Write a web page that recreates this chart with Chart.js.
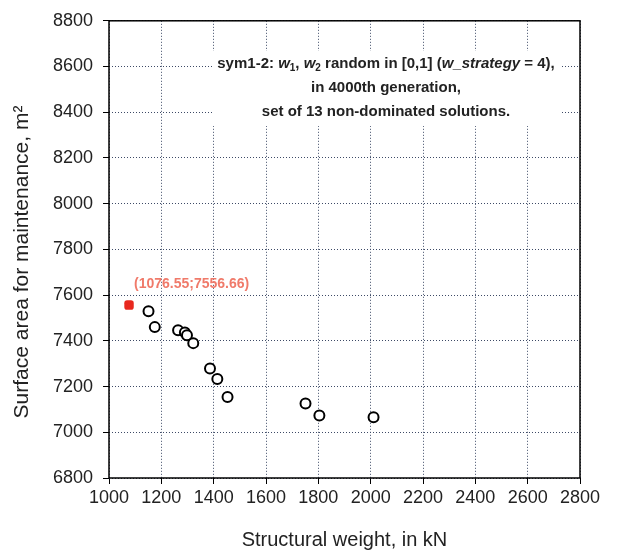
<!DOCTYPE html>
<html>
<head>
<meta charset="utf-8">
<script src="https://cdn.jsdelivr.net/npm/chart.js@4/dist/chart.umd.min.js"></script>
<style>
  html, body { margin: 0; padding: 0; background: #fff; }
  #wrap { width: 621px; height: 553px; }
</style>
</head>
<body>
<div id="wrap"><canvas id="chart" width="621" height="553"></canvas></div>
<script>
// non-dominated solutions (structural weight kN, surface area m2)
const weights = [1151, 1175, 1264, 1290, 1298, 1322, 1386, 1414, 1453, 1751, 1804, 2011];
const areas   = [7529, 7460, 7446, 7437, 7424, 7390, 7279, 7233, 7154, 7126, 7073, 7066];
// highlighted best solution
const bestWeight = [1076.55];
const bestArea   = [7556.66];
const bestLabel  = '(1076.55;7556.66)';

const xTicks = [1000, 1200, 1400, 1600, 1800, 2000, 2200, 2400, 2600, 2800];
const yTicks = [6800, 7000, 7200, 7400, 7600, 7800, 8000, 8200, 8400, 8600, 8800];

const textColor = '#222';
const gridColor = '#3d4a66';
const font = 'Liberation Sans, Arial, sans-serif';
const yTitle = 'Surface area for maintenance, m²';

// note inside the plot, as styled runs
const noteLines = [
  [['sym1-2: ', ''], ['w', 'i'], ['1', 'sub'], [', ', ''], ['w', 'i'], ['2', 'sub'],
   [' random in [0,1] (', ''], ['w_strategy', 'i'], [' = 4),', '']],
  [['in 4000th generation,', '']],
  [['set of 13 non-dominated solutions.', '']]
];

const extras = {
  id: 'extras',
  beforeDatasetsDraw(chart) {
    const ctx = chart.ctx;
    const a = chart.chartArea;
    ctx.save();
    // white box behind the note
    ctx.fillStyle = '#fff';
    ctx.fillRect(212, 51, 348, 75);
    // frame
    ctx.strokeStyle = '#000';
    ctx.lineWidth = 1.5;
    ctx.strokeRect(a.left, a.top, a.right - a.left, a.bottom - a.top);

    // note text
    ctx.fillStyle = textColor;
    ctx.textBaseline = 'alphabetic';
    const fontFor = (s) => {
      if (s === 'i') return 'italic bold 15px ' + font;
      if (s === 'sub') return 'bold 10px ' + font;
      return 'bold 15px ' + font;
    };
    const cx = 386;
    noteLines.forEach((runs, i) => {
      let w = 0;
      runs.forEach(r => { ctx.font = fontFor(r[1]); w += ctx.measureText(r[0]).width; });
      let x = cx - w / 2;
      const y = 68 + i * 24;
      runs.forEach(r => {
        ctx.font = fontFor(r[1]);
        ctx.fillText(r[0], x, r[1] === 'sub' ? y + 3 : y);
        x += ctx.measureText(r[0]).width;
      });
    });

    // y axis title, a little below the scale centre as in the original
    ctx.save();
    ctx.translate(22, 262);
    ctx.rotate(-Math.PI / 2);
    ctx.font = '21px ' + font;
    ctx.textAlign = 'center';
    ctx.textBaseline = 'middle';
    ctx.fillText(yTitle, 0, 0);
    ctx.restore();

    // label for best point
    const xs = chart.scales.x, ys = chart.scales.y;
    ctx.font = 'bold 14px ' + font;
    ctx.fillStyle = '#f07a6a';
    ctx.textAlign = 'left';
    ctx.textBaseline = 'middle';
    ctx.fillText(bestLabel, xs.getPixelForValue(bestWeight[0]) + 5, ys.getPixelForValue(bestArea[0]) - 21);
    ctx.restore();
  }
};

new Chart(document.getElementById('chart').getContext('2d'), {
  type: 'scatter',
  data: {
    datasets: [{
      data: weights.map((w, i) => ({ x: w, y: areas[i] })),
      pointStyle: 'circle',
      pointRadius: 5,
      borderWidth: 2,
      borderColor: '#000',
      backgroundColor: '#fff'
    }, {
      data: bestWeight.map((w, i) => ({ x: w, y: bestArea[i] })),
      pointStyle: 'rectRounded',
      pointRadius: 5.5,
      borderWidth: 0,
      borderColor: '#e8281e',
      backgroundColor: '#e8281e'
    }]
  },
  options: {
    responsive: false,
    animation: false,
    layout: { padding: { top: 18, right: 41, left: 0, bottom: 0 } },
    plugins: { legend: { display: false }, tooltip: { enabled: false } },
    scales: {
      x: {
        type: 'linear',
        min: xTicks[0],
        max: xTicks[xTicks.length - 1],
        afterFit(s) { s.height = 75; },
        afterBuildTicks(s) { s.ticks = xTicks.map(v => ({ value: v })); },
        ticks: { color: textColor, font: { family: font, size: 18 }, padding: 3, maxRotation: 0, autoSkip: false,
                 callback: v => String(v) },
        grid: { color: gridColor, lineWidth: 1, tickLength: 6, tickColor: '#000', tickBorderDash: [] },
        border: { display: false, dash: [1, 2] },
        title: { display: true, text: 'Structural weight, in kN', color: textColor, font: { family: font, size: 20 }, padding: { top: 0, bottom: 1 } }
      },
      y: {
        type: 'linear',
        min: yTicks[0],
        max: yTicks[yTicks.length - 1],
        afterFit(s) { s.width = 109; },
        afterBuildTicks(s) { s.ticks = yTicks.map(v => ({ value: v })); },
        ticks: { color: textColor, font: { family: font, size: 18 }, padding: 10, autoSkip: false,
                 callback: v => String(v) },
        grid: { color: gridColor, lineWidth: 1, tickLength: 6, tickColor: '#000', tickBorderDash: [] },
        border: { display: false, dash: [1, 2] },
        title: { display: false }
      }
    }
  },
  plugins: [extras]
});
</script>
</body>
</html>
